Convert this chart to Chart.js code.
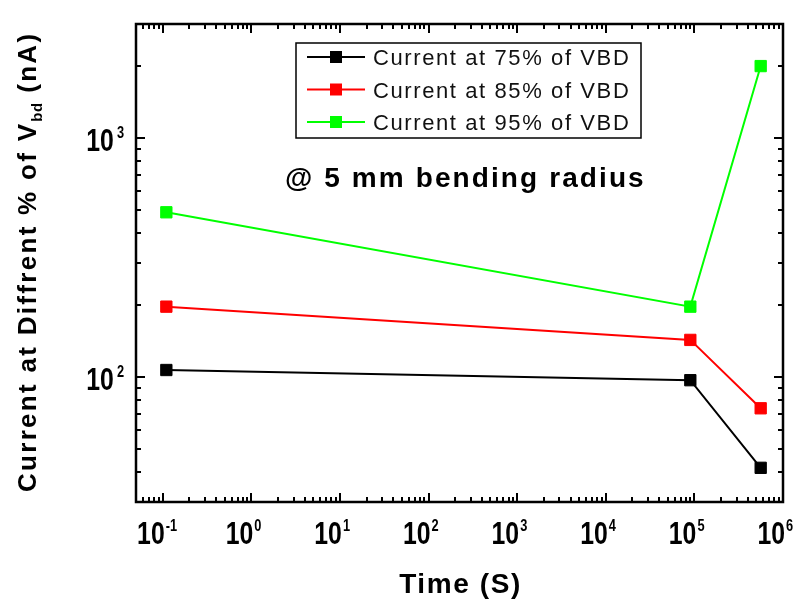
<!DOCTYPE html>
<html>
<head>
<meta charset="utf-8">
<script src="https://cdn.jsdelivr.net/npm/chart.js@4/dist/chart.umd.min.js"></script>
<style>
  html, body { margin: 0; padding: 0; background: #ffffff; }
  #wrap { width: 809px; height: 604px; position: relative; }
</style>
</head>
<body>
<div id="wrap"><canvas id="c"></canvas></div>
<script>
// ---- data ----
const timeS      = [0.11, 90000, 560000];
const current75  = [107, 97, 41.7];
const current85  = [197, 143, 74];
const current95  = [489, 197, 2000];
const seriesLabels = ['Current at 75% of VBD', 'Current at 85% of VBD', 'Current at 95% of VBD'];
const xTickExponents = ['-1', '0', '1', '2', '3', '4', '5', '6'];
const yTickExponents = ['2', '3'];
const xTitle = 'Time (S)';
const yTitleMain = 'Current at Diffrent % of V';
const yTitleSub = 'bd';
const yTitleEnd = ' (nA)';
const annotationText = '@ 5 mm bending radius';

const colors = ['#000000', '#ff0000', '#00ff00'];
const FONT = '"Liberation Sans", Arial, sans-serif';

function pts(xs, ys) { return xs.map((x, i) => ({ x: x, y: ys[i] })); }

function drawText(ctx, s, x, y, o) {
  ctx.save();
  ctx.font = o.font;
  ctx.letterSpacing = (o.ls || 0) + 'px';
  ctx.fillStyle = o.color || '#000';
  ctx.textBaseline = o.baseline || 'alphabetic';
  ctx.textAlign = 'left';
  const sx = o.sx || 1;
  const w = ctx.measureText(s).width * sx;
  let x0 = x;
  if (o.align === 'center') x0 = x - w / 2;
  else if (o.align === 'right') x0 = x - w;
  ctx.translate(x0, y);
  ctx.scale(sx, 1);
  ctx.fillText(s, 0, 0);
  ctx.restore();
  return w;
}
function measure(ctx, s, font, ls, sx) {
  ctx.save(); ctx.font = font; ctx.letterSpacing = (ls || 0) + 'px';
  const w = ctx.measureText(s).width * (sx || 1); ctx.restore(); return w;
}

function minorValues(min, max) {
  const out = [];
  for (let e = Math.floor(Math.log10(min)); e <= Math.ceil(Math.log10(max)); e++) {
    for (let k = 1; k <= 9; k++) {
      const v = k * Math.pow(10, e);
      if (v >= min * 0.9999 && v <= max * 1.0001) out.push({ v: v, major: k === 1 });
    }
  }
  return out;
}

const decorPlugin = {
  id: 'decor',
  afterDatasetsDraw(chart) {
    const ctx = chart.ctx;
    const a = chart.chartArea;
    const xs = chart.scales.x, ys = chart.scales.y;
    ctx.save();
    // frame
    ctx.strokeStyle = '#000';
    ctx.lineWidth = 2.5;
    ctx.strokeRect(a.left, a.top, a.right - a.left, a.bottom - a.top);
    // ticks
    ctx.lineWidth = 2;
    minorValues(xs.min, xs.max).forEach(t => {
      const px = Math.round(xs.getPixelForValue(t.v));
      const len = t.major ? 9 : 5;
      ctx.beginPath();
      ctx.moveTo(px, a.bottom); ctx.lineTo(px, a.bottom - len);
      ctx.moveTo(px, a.top); ctx.lineTo(px, a.top + len);
      ctx.stroke();
    });
    minorValues(ys.min, ys.max).forEach(t => {
      const py = Math.round(ys.getPixelForValue(t.v));
      const len = t.major ? 9 : 5;
      ctx.beginPath();
      ctx.moveTo(a.left, py); ctx.lineTo(a.left + len, py);
      ctx.moveTo(a.right, py); ctx.lineTo(a.right - len, py);
      ctx.stroke();
    });
    // tick labels
    const bigF = 'bold 31px ' + FONT, supF = 'bold 16px ' + FONT, SX = 0.8;
    xTickExponents.forEach(ex => {
      const px = xs.getPixelForValue(Math.pow(10, Number(ex)));
      const w10 = measure(ctx, '10', bigF, 0, SX);
      drawText(ctx, '10', px + 2 - w10, 544, { font: bigF, sx: SX });
      drawText(ctx, ex, px + 3, 531, { font: supF, sx: SX });
    });
    yTickExponents.forEach(ex => {
      const py = ys.getPixelForValue(Math.pow(10, Number(ex)));
      const wsup = measure(ctx, ex, supF, 0, SX);
      const supX = 124 - wsup;
      drawText(ctx, ex, supX, py + 0, { font: supF, sx: SX });
      drawText(ctx, '10', supX - 3, py + 13, { font: bigF, sx: SX, align: 'right' });
    });
    // x title
    drawText(ctx, xTitle, (a.left + a.right) / 2 + 1, 593, { font: 'bold 28px ' + FONT, ls: 1.6, align: 'center' });
    // y title (rotated, with subscript)
    const tf = 'bold 26px ' + FONT, sf = 'bold 15px ' + FONT, tls = 2.3;
    const w1 = measure(ctx, yTitleMain, tf, tls), w2 = measure(ctx, yTitleSub, sf, 0.5), w3 = measure(ctx, yTitleEnd, tf, tls);
    const total = w1 + w2 + w3;
    ctx.save();
    ctx.translate(36, 492);
    ctx.rotate(-Math.PI / 2);
    drawText(ctx, yTitleMain, 0, 0, { font: tf, ls: tls });
    drawText(ctx, yTitleSub, w1, 6, { font: sf, ls: 0.5 });
    drawText(ctx, yTitleEnd, w1 + w2, 0, { font: tf, ls: tls });
    ctx.restore();
    // annotation
    drawText(ctx, annotationText, 285, 187, { font: 'bold 28px ' + FONT, ls: 2.1 });
    // legend
    const bx = 296, by = 43, bw = 345, bh = 95;
    ctx.fillStyle = '#fff';
    ctx.fillRect(bx, by, bw, bh);
    ctx.strokeStyle = '#000'; ctx.lineWidth = 1.5;
    ctx.strokeRect(bx, by, bw, bh);
    chart.data.datasets.forEach((ds, i) => {
      const cy = 57 + i * 32.5;
      ctx.strokeStyle = ds.borderColor; ctx.lineWidth = 2;
      ctx.beginPath(); ctx.moveTo(307, cy); ctx.lineTo(365, cy); ctx.stroke();
      ctx.fillStyle = ds.backgroundColor;
      ctx.fillRect(336 - 6, cy - 6, 12, 12);
      drawText(ctx, ds.label, 373, cy + 8, { font: '22px ' + FONT, ls: 1.6, color: '#111' });
    });
    ctx.restore();
  }
};

const datasets = [current75, current85, current95].map((ys, i) => ({
  label: seriesLabels[i],
  data: pts(timeS, ys),
  borderColor: colors[i],
  backgroundColor: colors[i],
  borderWidth: 2,
  pointStyle: 'rect',
  pointRadius: 8,
  pointBorderWidth: 1,
  tension: 0
}));

new Chart(document.getElementById('c'), {
  type: 'line',
  data: { datasets: datasets },
  options: {
    responsive: true,
    maintainAspectRatio: false,
    animation: false,
    layout: { padding: { left: 136, top: 24, right: 26, bottom: 102 } },
    plugins: { legend: { display: false }, tooltip: { enabled: false } },
    scales: {
      x: { type: 'logarithmic', min: 0.05, max: 1e6, display: false },
      y: { type: 'logarithmic', min: 30, max: 3000, display: false }
    }
  },
  plugins: [decorPlugin]
});
</script>
</body>
</html>
